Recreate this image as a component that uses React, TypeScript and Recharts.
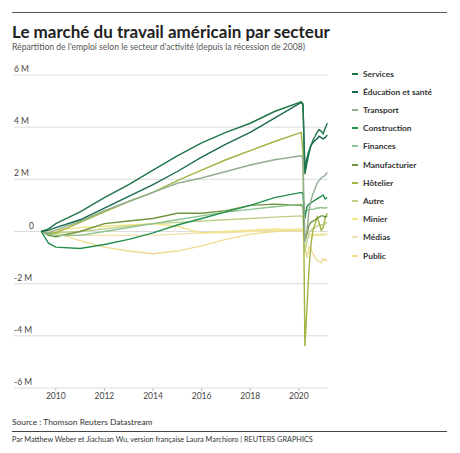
import React from "react";
import { LineChart, Line, XAxis, YAxis, CartesianGrid } from "recharts";

// décimales d'année : juin 2009 -> mars 2021
const years = [
  2009.4, 2009.7, 2010, 2011, 2012, 2013, 2014, 2015, 2016, 2017, 2018, 2019,
  2020.1, 2020.17, 2020.25, 2020.33, 2020.42, 2020.5, 2020.58, 2020.67, 2020.75,
  2020.83, 2020.92, 2021.0, 2021.08, 2021.17,
];

// variation de l'emploi en millions depuis 2009
const services = [0, 0.1, 0.3, 0.75, 1.3, 1.8, 2.35, 2.9, 3.4, 3.8, 4.15, 4.6, 4.97, 4.9, 2.2, 2.6, 3.0, 3.3, 3.5, 3.65, 3.8, 3.9, 3.85, 3.75, 3.95, 4.15];
const education = [0, 0.05, 0.15, 0.45, 0.9, 1.35, 1.8, 2.3, 2.85, 3.35, 3.8, 4.35, 4.95, 4.85, 2.4, 2.8, 3.1, 3.3, 3.4, 3.5, 3.55, 3.65, 3.6, 3.55, 3.6, 3.7];
const transport = [0, -0.05, 0.05, 0.4, 0.8, 1.15, 1.5, 1.85, 2.05, 2.3, 2.55, 2.75, 2.9, 2.8, -0.4, 0.0, 0.8, 1.2, 1.45, 1.65, 1.85, 1.95, 2.05, 2.1, 2.15, 2.27];
const construction = [0, -0.45, -0.6, -0.65, -0.5, -0.3, -0.05, 0.25, 0.5, 0.75, 1.0, 1.3, 1.5, 1.45, 0.5, 0.95, 1.05, 1.1, 1.15, 1.2, 1.25, 1.3, 1.35, 1.4, 1.25, 1.3];
const finances = [0, -0.1, -0.15, -0.15, 0.0, 0.15, 0.3, 0.45, 0.6, 0.75, 0.85, 0.95, 1.05, 1.0, 0.75, 0.8, 0.85, 0.85, 0.85, 0.88, 0.9, 0.9, 0.92, 0.9, 0.9, 0.92];
const manufacturier = [0, -0.15, -0.2, 0.0, 0.3, 0.4, 0.5, 0.7, 0.7, 0.8, 1.0, 1.05, 1.0, 0.95, -0.35, -0.1, 0.25, 0.35, 0.4, 0.45, 0.5, 0.55, 0.6, 0.6, 0.55, 0.6];
const hotelier = [0, -0.1, -0.05, 0.35, 0.75, 1.15, 1.5, 1.95, 2.35, 2.75, 3.1, 3.45, 3.8, 3.0, -4.4, -3.0, -1.4, -0.5, 0.05, 0.3, 0.55, 0.35, 0.05, 0.15, 0.5, 0.7];
const autre = [0, -0.05, -0.05, 0.0, 0.1, 0.2, 0.3, 0.35, 0.4, 0.45, 0.5, 0.55, 0.6, 0.55, -0.8, -0.4, -0.05, 0.05, 0.1, 0.15, 0.2, 0.25, 0.25, 0.25, 0.3, 0.35];
const minier = [0, -0.05, 0.05, 0.15, 0.2, 0.25, 0.3, 0.2, -0.05, 0.0, 0.05, 0.1, 0.05, 0.05, -0.05, -0.1, -0.1, -0.12, -0.12, -0.12, -0.1, -0.1, -0.1, -0.1, -0.1, -0.08];
const medias = [0, -0.05, -0.1, -0.15, -0.15, -0.15, -0.15, -0.1, -0.05, -0.05, 0.0, 0.05, 0.1, 0.1, -0.2, -0.2, -0.2, -0.2, -0.15, -0.15, -0.15, -0.15, -0.15, -0.15, -0.12, -0.12];
const publicSector = [0, 0.05, -0.05, -0.35, -0.6, -0.75, -0.85, -0.75, -0.55, -0.3, -0.1, 0.0, 0.05, 0.0, -0.6, -1.0, -0.6, -0.7, -0.85, -1.0, -1.1, -1.15, -1.2, -1.05, -1.1, -1.1];

const yTicks = [-6, -4, -2, 0, 2, 4, 6];
const yLabels = ["-6 M", "-4 M", "-2 M", "0", "2 M", "4 M", "6 M"];
const xTicks = [2010, 2012, 2014, 2016, 2018, 2020];

const series = [
  { key: "services", name: "Services", values: services, color: "#1d7548" },
  { key: "education", name: "Éducation et santé", values: education, color: "#176a50" },
  { key: "transport", name: "Transport", values: transport, color: "#93ad90" },
  { key: "construction", name: "Construction", values: construction, color: "#24904f" },
  { key: "finances", name: "Finances", values: finances, color: "#8cc28c" },
  { key: "manufacturier", name: "Manufacturier", values: manufacturier, color: "#6f9442" },
  { key: "hotelier", name: "Hôtelier", values: hotelier, color: "#9fb441" },
  { key: "autre", name: "Autre", values: autre, color: "#bfd08a" },
  { key: "minier", name: "Minier", values: minier, color: "#f1e486" },
  { key: "medias", name: "Médias", values: medias, color: "#f2e2ae" },
  { key: "public", name: "Public", values: publicSector, color: "#efdb8e" },
];

const data = years.map((t, i) => {
  const row: Record<string, number> = { t };
  series.forEach((s) => (row[s.key] = s.values[i]));
  return row;
});

const FONT = "Lato, 'Noto Sans', sans-serif";

const renderYTick = (props: any) => {
  const { y, payload } = props;
  const label = yLabels[yTicks.indexOf(Number(payload.value))];
  return (
    <text x={label === "0" ? 29 : 14} y={y - 3} fontSize={8.5} fill="#444" fontFamily={FONT}>
      {label}
    </text>
  );
};

export default function App() {
  return (
    <div style={{ position: "absolute", left: 0, top: 0, width: 460, height: 453, background: "#fff", fontFamily: FONT }}>
      <div style={{ position: "absolute", left: 12, top: 12, width: 435, borderTop: "1px solid #555" }} />
      <div style={{ position: "absolute", left: 12, top: 21, fontSize: 17, fontWeight: 700, color: "#222", whiteSpace: "nowrap" }}>
        Le marché du travail américain par secteur
      </div>
      <div style={{ position: "absolute", left: 12, top: 42, fontSize: 8.6, color: "#555", whiteSpace: "nowrap" }}>
        Répartition de l'emploi selon le secteur d'activité (depuis la récession de 2008)
      </div>

      <div style={{ position: "absolute", left: 0, top: 0 }}>
        <LineChart width={460} height={408} data={data} margin={{ top: 75, right: 132, bottom: 0, left: 13 }}>
          <CartesianGrid vertical={false} stroke="#dcdcdc" />
          <XAxis
            dataKey="t"
            type="number"
            domain={[2008.28, 2021.2]}
            ticks={xTicks}
            allowDataOverflow
            axisLine={false}
            tickSize={3}
            tickLine={{ stroke: "#bbb" }}
            tick={{ fontSize: 8.5, fill: "#444", fontFamily: FONT }}
            height={20}
          />
          <YAxis
            type="number"
            domain={[-6, 6]}
            ticks={yTicks}
            width={1}
            axisLine={false}
            tickLine={false}
            tick={renderYTick}
          />
          {[...series].reverse().map((s) => (
            <Line
              key={s.key}
              dataKey={s.key}
              type="linear"
              stroke={s.color}
              strokeWidth={1.4}
              dot={false}
              isAnimationActive={false}
            />
          ))}
        </LineChart>
      </div>

      {series.map((s, i) => (
        <div key={s.key} style={{ position: "absolute", left: 352, top: 73.5 + i * 18.2 - 6, height: 12, display: "flex", alignItems: "center" }}>
          <div style={{ width: 6, height: 2, background: s.color, marginRight: 5 }} />
          <div style={{ fontSize: 8.4, fontWeight: 700, color: "#333", whiteSpace: "nowrap" }}>{s.name}</div>
        </div>
      ))}

      <div style={{ position: "absolute", left: 12, top: 417, fontSize: 8.4, color: "#333", whiteSpace: "nowrap" }}>
        Source : Thomson Reuters Datastream
      </div>
      <div style={{ position: "absolute", left: 12, top: 431, width: 435, borderTop: "1px solid #444" }} />
      <div style={{ position: "absolute", left: 12, top: 435, fontSize: 7.3, color: "#333", whiteSpace: "nowrap" }}>
        Par Matthew Weber et Jiachuan Wu, version française Laura Marchioro | REUTERS GRAPHICS
      </div>
    </div>
  );
}
